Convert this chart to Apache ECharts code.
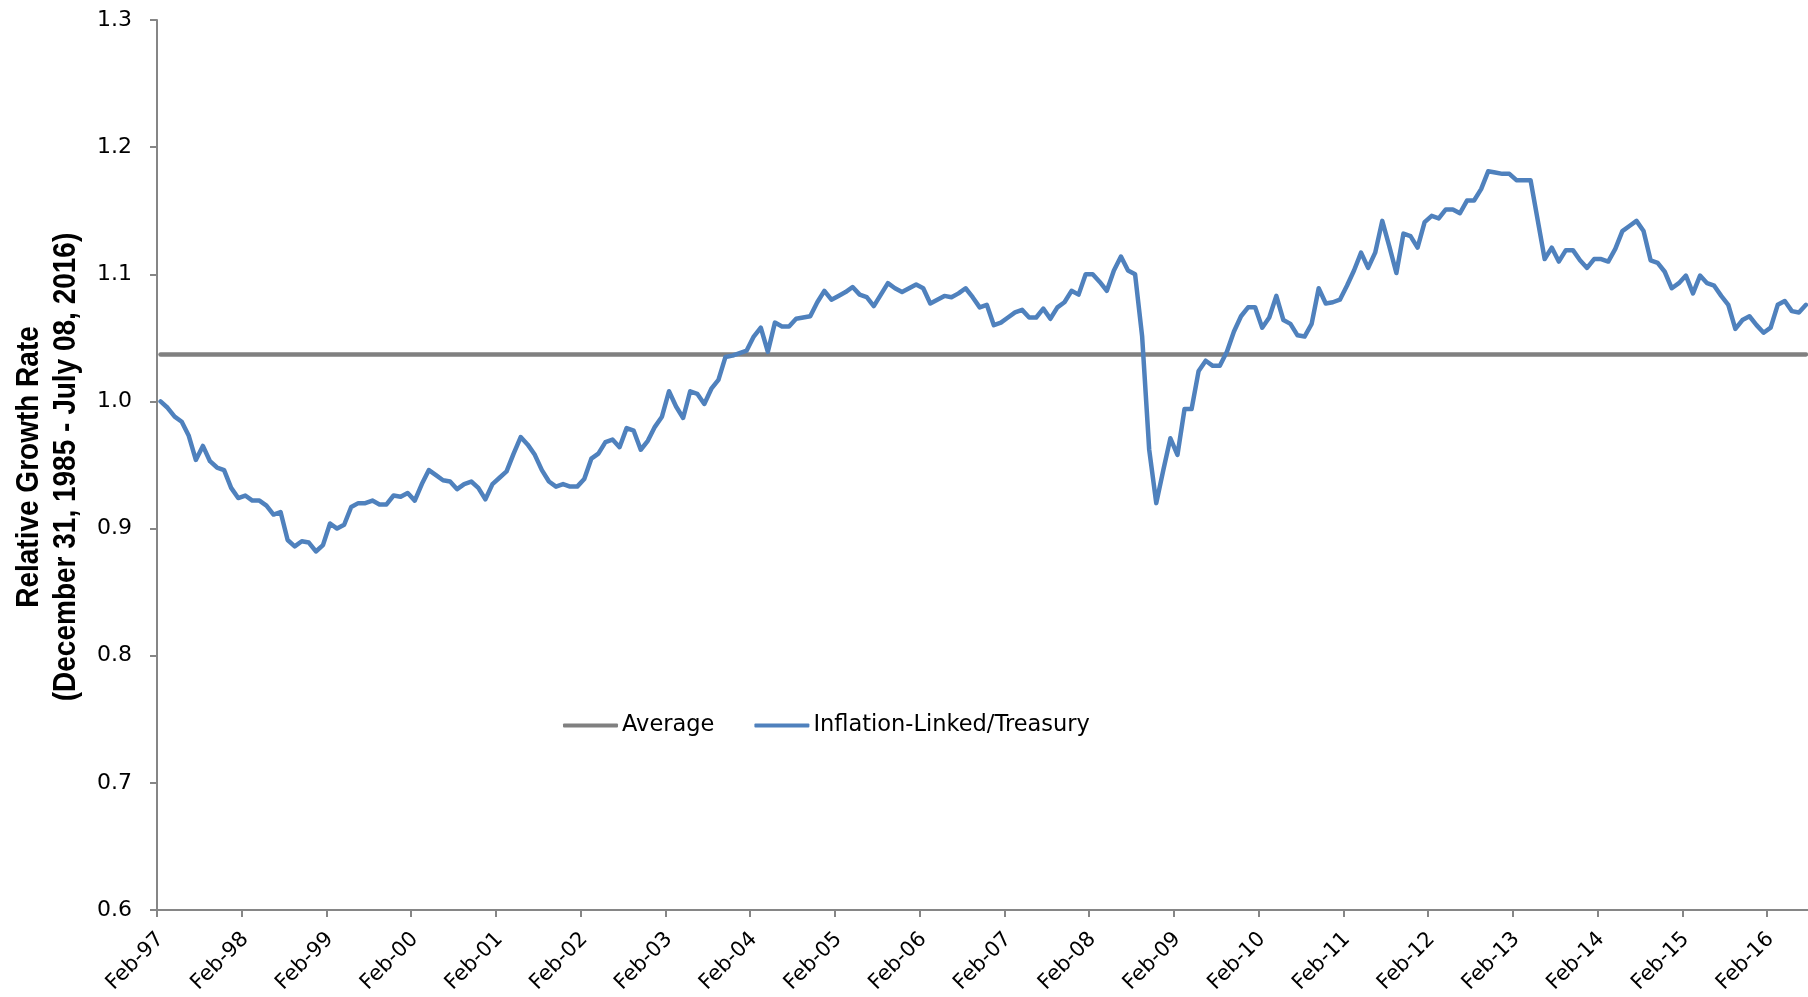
<!DOCTYPE html>
<html>
<head>
<meta charset="utf-8">
<script src="https://cdn.jsdelivr.net/npm/echarts@6/dist/echarts.min.js"></script>
<style>
  html, body { margin: 0; padding: 0; background: #ffffff; }
  #chart { width: 1808px; height: 997px; }
</style>
</head>
<body>
<div id="chart"></div>
<script>
// ---- data ----
const monthNames = ['Jan','Feb','Mar','Apr','May','Jun','Jul','Aug','Sep','Oct','Nov','Dec'];
const startYear = 1997;
const startMonth = 1; // Feb
const seriesName = 'Inflation-Linked/Treasury';
const averageName = 'Average';
const averageValue = 1.037;

const ratioValues = [
  1.000, 0.995, 0.988, 0.984, 0.973, 0.954, 0.965, 0.953, 0.948, 0.946, 0.932, 0.924,
  0.926, 0.922, 0.922, 0.918, 0.911, 0.913, 0.891, 0.886, 0.890, 0.889, 0.882, 0.887,
  0.904, 0.900, 0.903, 0.917, 0.920, 0.920, 0.922, 0.919, 0.919, 0.926, 0.925, 0.928,
  0.922, 0.935, 0.946, 0.942, 0.938, 0.937, 0.931, 0.935, 0.937, 0.932, 0.923, 0.935,
  0.940, 0.945, 0.959, 0.972, 0.966, 0.958, 0.946, 0.937, 0.933, 0.935, 0.933, 0.933,
  0.939, 0.955, 0.959, 0.968, 0.970, 0.964, 0.979, 0.977, 0.962, 0.969, 0.980, 0.988,
  1.008, 0.996, 0.987, 1.008, 1.006, 0.998, 1.010, 1.017, 1.035, 1.036, 1.038, 1.040,
  1.051, 1.058, 1.039, 1.062, 1.059, 1.059, 1.065, 1.066, 1.067, 1.078, 1.087, 1.080,
  1.083, 1.086, 1.090, 1.084, 1.082, 1.075, 1.084, 1.093, 1.089, 1.086, 1.089, 1.092,
  1.089, 1.077, 1.080, 1.083, 1.082, 1.085, 1.089, 1.082, 1.074, 1.076, 1.060, 1.062,
  1.066, 1.070, 1.072, 1.066, 1.066, 1.073, 1.065, 1.074, 1.078, 1.087, 1.084, 1.100,
  1.100, 1.094, 1.087, 1.103, 1.114, 1.103, 1.100, 1.051, 0.962, 0.920, 0.946, 0.971,
  0.958, 0.994, 0.994, 1.024, 1.032, 1.028, 1.028, 1.039, 1.055, 1.067, 1.074, 1.074,
  1.058, 1.066, 1.083, 1.064, 1.061, 1.052, 1.051, 1.061, 1.089, 1.077, 1.078, 1.080,
  1.091, 1.103, 1.117, 1.105, 1.117, 1.142, 1.122, 1.101, 1.132, 1.130, 1.121, 1.141,
  1.146, 1.144, 1.151, 1.151, 1.148, 1.158, 1.158, 1.167, 1.181, 1.180, 1.179, 1.179,
  1.174, 1.174, 1.174, 1.143, 1.112, 1.121, 1.110, 1.119, 1.119, 1.111, 1.105, 1.112,
  1.112, 1.110, 1.120, 1.134, 1.138, 1.142, 1.134, 1.111, 1.109, 1.102, 1.089, 1.093,
  1.099, 1.085, 1.099, 1.093, 1.091, 1.083, 1.076, 1.057, 1.064, 1.067, 1.060, 1.054,
  1.058, 1.076, 1.079, 1.071, 1.070, 1.076
];

// month categories (Feb-97 ... ), one per value
const categories = [];
for (let i = 0; i < ratioValues.length; i++) {
  const m = (startMonth + i) % 12;
  const y = startYear + Math.floor((startMonth + i) / 12);
  categories.push(monthNames[m] + '-' + String(y % 100).padStart(2, '0'));
}

const yMin = 0.6, yMax = 1.3, yInterval = 0.1;
const tickEvery = 12;
const yTitleLines = ['Relative Growth Rate', '(December 31, 1985 - July 08, 2016)'];

// ---- chart ----
const chart = echarts.init(document.getElementById('chart'), null, { renderer: 'canvas' });
const axisGray = '#868686';

chart.setOption({
  animation: false,
  backgroundColor: '#ffffff',
  grid: { left: 157, top: 20, width: 1652.5, height: 890, containLabel: false, outerBoundsMode: 'none' },
  legend: {
    left: 558, top: 709,
    itemWidth: 55, itemHeight: 4, itemGap: 40,
    icon: 'roundRect',
    data: [averageName, seriesName],
    textStyle: { fontFamily: 'DejaVu Sans', fontSize: 22.5, color: '#000000', padding: [0, 0, 0, -1] }
  },
  xAxis: {
    type: 'category',
    data: categories,
    boundaryGap: true,
    axisLine: { show: true, lineStyle: { color: axisGray, width: 2 } },
    axisTick: { show: true, length: 7, lineStyle: { color: axisGray, width: 2 },
      interval: function (idx) { return idx % tickEvery === 0; } },
    axisLabel: { rotate: 45, margin: 26, fontFamily: 'DejaVu Sans', fontSize: 21, color: '#000000',
      interval: function (idx) { return idx % tickEvery === 0; } },
    splitLine: { show: false }
  },
  yAxis: {
    type: 'value',
    min: yMin, max: yMax, interval: yInterval,
    axisLine: { show: true, lineStyle: { color: axisGray, width: 2 } },
    axisTick: { show: true, length: 7, lineStyle: { color: axisGray, width: 2 } },
    axisLabel: { margin: 25, fontFamily: 'DejaVu Sans', fontSize: 22, color: '#000000',
      formatter: function (v) { return v.toFixed(1); } },
    splitLine: { show: false }
  },
  graphic: [
    { type: 'text', x: 29, y: 467, rotation: Math.PI / 2, scaleY: 1.15,
      style: { text: yTitleLines[0], font: 'bold 28px "Liberation Sans"', fill: '#000000',
        align: 'center', verticalAlign: 'middle', textAlign: 'center', textVerticalAlign: 'middle' } },
    { type: 'text', x: 66, y: 467, rotation: Math.PI / 2, scaleY: 1.15,
      style: { text: yTitleLines[1], font: 'bold 28px "Liberation Sans"', fill: '#000000',
        align: 'center', verticalAlign: 'middle', textAlign: 'center', textVerticalAlign: 'middle' } }
  ],
  series: [
    {
      name: averageName,
      type: 'line',
      showSymbol: false,
      symbol: 'none',
      color: '#808080',
      lineStyle: { color: '#808080', width: 4.5, cap: 'round' },
      data: [[categories[0], averageValue], [categories[categories.length - 1], averageValue]],
      z: 2
    },
    {
      name: seriesName,
      type: 'line',
      showSymbol: false,
      symbol: 'none',
      color: '#4F81BD',
      lineStyle: { color: '#4F81BD', width: 4.5, cap: 'round', join: 'round' },
      data: ratioValues,
      z: 3
    }
  ]
});
</script>
</body>
</html>
